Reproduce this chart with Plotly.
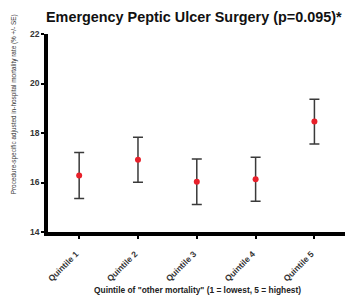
import plotly.graph_objects as go

categories = ["Quintile 1", "Quintile 2", "Quintile 3", "Quintile 4", "Quintile 5"]
means = [16.28, 16.92, 16.03, 16.13, 18.46]
se = [0.93, 0.91, 0.92, 0.89, 0.90]
y_ticks = [14, 16, 18, 20, 22]

fig = go.Figure()
fig.add_trace(go.Scatter(
    x=list(range(len(categories))), y=means,
    mode="markers",
    marker=dict(color="#e8202a", size=6),
    error_y=dict(type="data", array=se, visible=True, color="#3a3a3a", thickness=1.5, width=5),
    showlegend=False,
))

fig.update_layout(
    width=345, height=292,
    margin=dict(l=40, r=8, t=26, b=68),
    paper_bgcolor="white", plot_bgcolor="white",
    font=dict(family="Liberation Sans, Arial", color="#222222"),
    xaxis=dict(
        range=[-0.53, 4.52], tickmode="array",
        tickvals=list(range(len(categories))),
        ticktext=["<b>%s</b>" % c for c in categories],
        tickangle=-45, tickfont=dict(size=8.5, color="#333333"),
        ticklabelstandoff=7, ticklabelshift=-3,
        showline=True, linecolor="black", linewidth=3.5,
        ticks="outside", ticklen=3, tickwidth=2, tickcolor="black",
        showgrid=False, zeroline=False, automargin=False,
    ),
    yaxis=dict(
        range=[14, 22], tickmode="array", tickvals=y_ticks,
        ticktext=["<b>%d</b>" % v for v in y_ticks],
        tickfont=dict(size=8.5, color="#333333"),
        showline=True, linecolor="black", linewidth=3.5,
        ticks="outside", ticklen=3, tickwidth=2, tickcolor="black",
        showgrid=False, zeroline=False, automargin=False,
    ),
    annotations=[
        dict(text="<b>Emergency Peptic Ulcer Surgery (p=0.095)*</b>",
             xref="paper", yref="paper", x=0.49, y=1.0, yshift=17,
             xanchor="center", yanchor="middle", showarrow=False,
             font=dict(size=14.4, color="#111111")),
        dict(text='<b>Quintile of "other mortality" (1 = lowest, 5 = highest)</b>',
             xref="paper", yref="paper", x=0.505, y=0, yshift=-58,
             xanchor="center", yanchor="middle", showarrow=False,
             font=dict(size=8.4, color="#222222")),
        dict(text="Procedure-specific adjusted in-hospital mortality rate (% +/- SE)",
             xref="paper", yref="paper", x=0, xshift=-34, y=0.645,
             xanchor="center", yanchor="middle", textangle=-90, showarrow=False,
             font=dict(size=6.4, color="#333333")),
    ],
)

fig.write_html("out.html")
